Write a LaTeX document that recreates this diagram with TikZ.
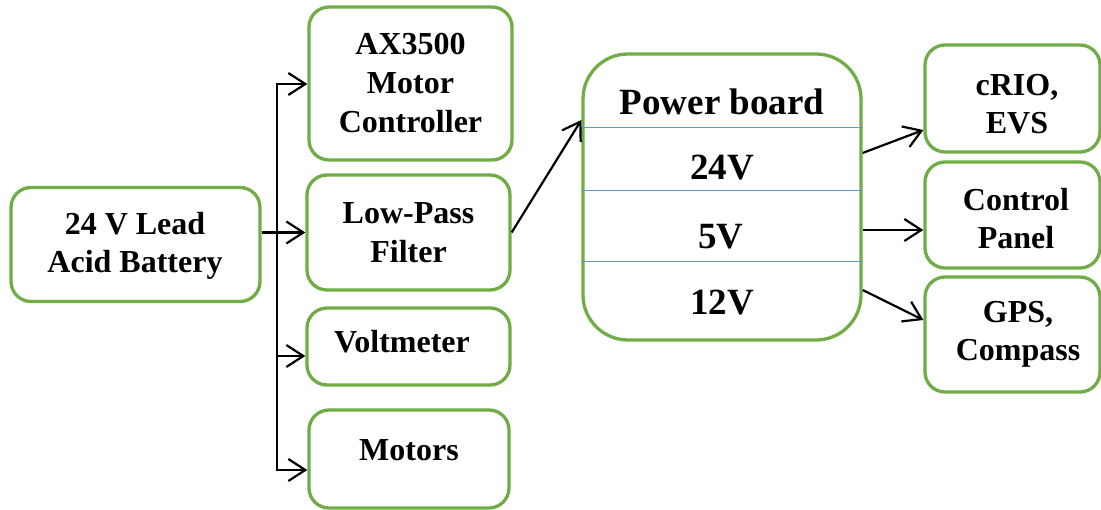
\documentclass[tikz,border=0pt]{standalone}
\usepackage{fontspec}
\setmainfont{Liberation Serif}
\usetikzlibrary{arrows.meta}
\definecolor{boxgreen}{HTML}{70AD47}
\definecolor{sepblue}{HTML}{5B9BD5}
\tikzset{
  box/.style={draw=boxgreen, line width=3.3pt, rounded corners=20pt, fill=white,
    align=center, inner sep=0pt,
    font=\fontsize{32}{39}\selectfont\bfseries},
  lbl/.style={inner sep=0pt, align=center, font=\fontsize{32}{38}\selectfont\bfseries},
  bigtext/.style={inner sep=0pt, font=\fontsize{37}{44}\selectfont\bfseries},
  arr/.style={draw=black, line width=2.2pt,
    -{Straight Barb[length=17pt,width=22pt,line width=2.2pt]}},
  sep/.style={draw=sepblue, line width=1pt}
}
\begin{document}
\begin{tikzpicture}[x=1pt,y=-1pt]
\useasboundingbox (0,0) rectangle (1101,510);

% left column
\node[box, minimum width=249pt, minimum height=114pt] (bat) at (135.5,244.5) {};
\node[lbl] (batt) at (135,246) {24 V Lead\\Acid Battery};
\node[box, minimum width=203pt, minimum height=153pt] (ax) at (410.5,83.5) {AX3500\\Motor\\Controller};
\node[box, minimum width=203pt, minimum height=115pt] (lpf) at (408.5,232.5) {Low-Pass\\Filter};
\node[box, minimum width=203pt, minimum height=77pt] (vm) at (408.5,346.5) {};
\node[box, minimum width=200pt, minimum height=98pt] (mot) at (409,459) {};
\node[lbl] (vmt) at (402,342) {Voltmeter};
\node[lbl] (mott) at (409,450) {Motors};

% power board
\node[draw=boxgreen, line width=3.3pt, rounded corners=45pt, fill=white,
  minimum width=278pt, minimum height=286pt, inner sep=0pt] (pb) at (722,197) {};
\coordinate (s1) at (0,128);
\coordinate (s2) at (0,191);
\coordinate (s3) at (0,262);
\draw[sep] (pb.west |- s1) -- (pb.east |- s1);
\draw[sep] (pb.west |- s2) -- (pb.east |- s2);
\draw[sep] (pb.west |- s3) -- (pb.east |- s3);
\node[bigtext] (pbt) at (722,102) {Power board};
\node[bigtext] (v24) at (722,168) {24V};
\node[bigtext] (v5) at (721,237) {5V};
\node[bigtext] (v12) at (722,303) {12V};

% right column
\node[box, minimum width=175pt, minimum height=107pt] (crio) at (1012.5,98.5) {};
\node[box, minimum width=175pt, minimum height=106pt] (cp) at (1012.5,215) {};
\node[box, minimum width=175pt, minimum height=115pt] (gps) at (1012.5,334.5) {};
\node[lbl] (criot) at (1017,104) {cRIO,\\EVS};
\node[lbl] (cpt) at (1016,219) {Control\\Panel};
\node[lbl] (gpst) at (1018,334) {GPS,\\Compass};

% bus from battery
\coordinate (bt) at (277,84);
\coordinate (bb) at (277,470);
\coordinate (bv) at (277,356);
\draw[arr] (bb) -- (bt) -- (bt -| ax.west);
\draw[arr] (bt) -- (bb) -- (bb -| mot.west);
\draw[arr] (bv) -- (bv -| vm.west);
\draw[arr] (bat.east |- lpf.west) -- (lpf.west);

% low-pass filter to power board
\coordinate (pin) at (0,120);
\draw[arr] (lpf.east) -- (pb.west |- pin);

% power board outputs
\coordinate (o1) at (0,153);
\coordinate (i1) at (0,130);
\coordinate (o2) at (0,230);
\coordinate (o3) at (0,290);
\coordinate (i3) at (0,320);
\draw[arr] (pb.east |- o1) -- (crio.west |- i1);
\draw[arr] (pb.east |- o2) -- (cp.west |- o2);
\draw[arr] (pb.east |- o3) -- (gps.west |- i3);
\end{tikzpicture}
\end{document}
